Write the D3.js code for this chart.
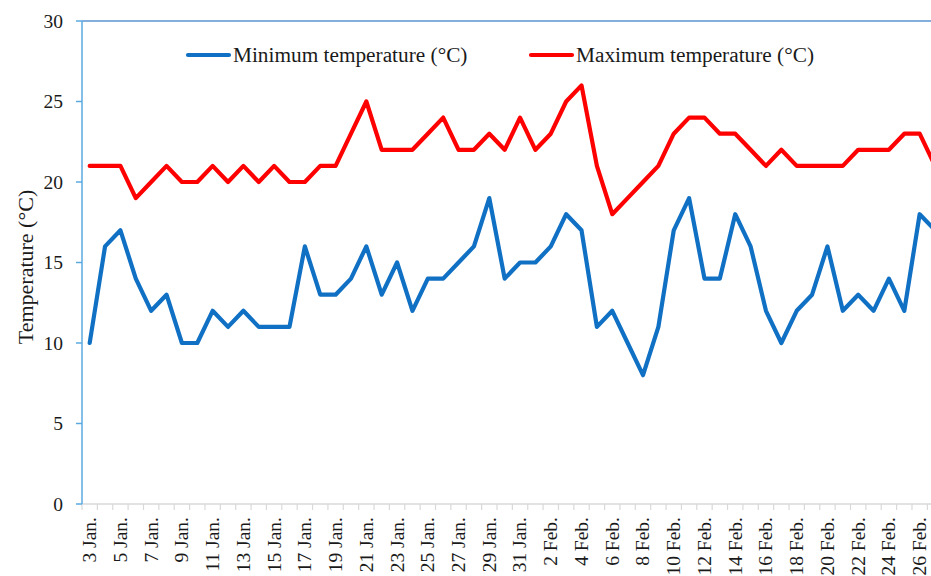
<!DOCTYPE html>
<html>
<head>
<meta charset="utf-8">
<script src="https://cdn.jsdelivr.net/npm/d3@7"></script>
<style>
  html, body { margin: 0; padding: 0; background: #fff; overflow: hidden; }
  svg { display: block; }
  text { font-family: "Liberation Serif", "Times New Roman", serif; fill: #1a1a1a; }
</style>
</head>
<body>
<svg id="chart" width="931" height="576"></svg>
<script>
// ---- Data ----
const dates = [
  "3 Jan.","4 Jan.","5 Jan.","6 Jan.","7 Jan.","8 Jan.","9 Jan.","10 Jan.","11 Jan.","12 Jan.",
  "13 Jan.","14 Jan.","15 Jan.","16 Jan.","17 Jan.","18 Jan.","19 Jan.","20 Jan.","21 Jan.","22 Jan.",
  "23 Jan.","24 Jan.","25 Jan.","26 Jan.","27 Jan.","28 Jan.","29 Jan.","30 Jan.","31 Jan.","1 Feb.",
  "2 Feb.","3 Feb.","4 Feb.","5 Feb.","6 Feb.","7 Feb.","8 Feb.","9 Feb.","10 Feb.","11 Feb.",
  "12 Feb.","13 Feb.","14 Feb.","15 Feb.","16 Feb.","17 Feb.","18 Feb.","19 Feb.","20 Feb.","21 Feb.",
  "22 Feb.","23 Feb.","24 Feb.","25 Feb.","26 Feb.","27 Feb."
];
const minTemp = [
  10,16,17,14,12,13,10,10,12,11,
  12,11,11,11,16,13,13,14,16,13,
  15,12,14,14,15,16,19,14,15,15,
  16,18,17,11,12,10,8,11,17,19,
  14,14,18,16,12,10,12,13,16,12,
  13,12,14,12,18,17
];
const maxTemp = [
  21,21,21,19,20,21,20,20,21,20,
  21,20,21,20,20,21,21,23,25,22,
  22,22,23,24,22,22,23,22,24,22,
  23,25,26,21,18,19,20,21,23,24,
  24,23,23,22,21,22,21,21,21,21,
  22,22,22,23,23,21
];
const yTicks = [0,5,10,15,20,25,30];
const seriesNames = ["Minimum temperature (\u00B0C)", "Maximum temperature (\u00B0C)"];
const seriesColors = ["#1070c4", "#ff0000"];
const yTitle = "Temperature (\u00B0C)";

// ---- Layout ----
const svg = d3.select("#chart");
const mLeft = 82, mTop = 21, mBottom = 504;
const step = 15.37;
const mRight = mLeft + step * dates.length;

const x = d3.scaleBand().domain(dates).range([mLeft, mRight]).padding(0);
const y = d3.scaleLinear().domain([0, 30]).range([mBottom, mTop]);
const cx = d => x(d) + x.bandwidth() / 2;

// top border of plot area
svg.append("line")
  .attr("x1", mLeft).attr("x2", mRight)
  .attr("y1", y(30)).attr("y2", y(30))
  .attr("stroke", "#5b93d3").attr("stroke-width", 1.5);

// X axis (gray, ticks between categories)
const xAxisG = svg.append("g").attr("transform", `translate(0,${mBottom})`);
xAxisG.append("line")
  .attr("x1", mLeft).attr("x2", mRight).attr("y1", 0).attr("y2", 0)
  .attr("stroke", "#d9d9d9").attr("stroke-width", 1.5);
xAxisG.selectAll("line.tk").data(dates)
  .enter().append("line").attr("class", "tk")
  .attr("x1", d => x(d)).attr("x2", d => x(d))
  .attr("y1", 0).attr("y2", 6)
  .attr("stroke", "#d9d9d9").attr("stroke-width", 1.2);
xAxisG.selectAll("text.lbl").data(dates.filter((d, i) => i % 2 === 0))
  .enter().append("text").attr("class", "lbl")
  .attr("transform", d => `translate(${cx(d)},${13}) rotate(-90)`)
  .attr("text-anchor", "end")
  .attr("dy", "0.33em")
  .style("font-size", "19.5px")
  .text(d => d);

// Y axis (light blue)
const yAxisG = svg.append("g");
yAxisG.append("line")
  .attr("x1", mLeft).attr("x2", mLeft).attr("y1", y(0)).attr("y2", y(30))
  .attr("stroke", "#5aaae0").attr("stroke-width", 1.5);
yAxisG.selectAll("line.tk").data(yTicks).enter().append("line").attr("class", "tk")
  .attr("x1", mLeft - 6).attr("x2", mLeft).attr("y1", d => y(d)).attr("y2", d => y(d))
  .attr("stroke", "#5aaae0").attr("stroke-width", 1.5);
yAxisG.selectAll("text").data(yTicks).enter().append("text")
  .attr("x", 63).attr("y", d => y(d)).attr("dy", "0.35em")
  .attr("text-anchor", "end")
  .style("font-size", "19.5px")
  .text(d => d);

// Y title
svg.append("text")
  .attr("transform", `translate(33,${267}) rotate(-90)`)
  .attr("text-anchor", "middle")
  .style("font-size", "22px")
  .text(yTitle);

// Lines
const line = d3.line().x((d, i) => cx(dates[i])).y(d => y(d)).curve(d3.curveLinear);
[minTemp, maxTemp].forEach((arr, k) => {
  svg.append("path")
    .attr("d", line(arr))
    .attr("fill", "none")
    .attr("stroke", seriesColors[k])
    .attr("stroke-width", 4.2)
    .attr("stroke-linejoin", "round")
    .attr("stroke-linecap", "round");
});

// Legend
const legendItems = [
  { name: seriesNames[0], color: seriesColors[0], x0: 188 },
  { name: seriesNames[1], color: seriesColors[1], x0: 531 }
];
const lg = svg.append("g");
legendItems.forEach(it => {
  lg.append("line")
    .attr("x1", it.x0).attr("x2", it.x0 + 41)
    .attr("y1", 55).attr("y2", 55)
    .attr("stroke", it.color).attr("stroke-width", 4.2)
    .attr("stroke-linecap", "round");
  lg.append("text")
    .attr("x", it.x0 + 45).attr("y", 62)
    .style("font-size", "21.3px")
    .text(it.name);
});
</script>
</body>
</html>
